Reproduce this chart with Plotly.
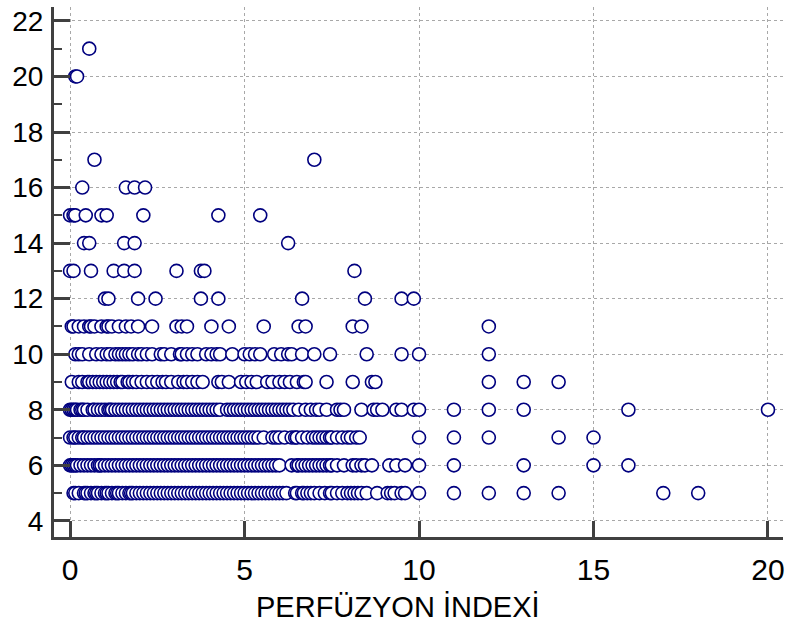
import plotly.graph_objects as go

# PERFÜZYON İNDEXİ values for each integer y level
x_y5 = [0.1, 0.15, 0.25, 0.4, 0.45, 0.5, 0.6, 0.7, 0.75, 0.8, 0.9, 1.0, 1.05, 1.1, 1.2, 1.3, 1.35, 1.4,
        1.5, 1.6, 1.7, 1.75, 1.8, 1.9, 2.0, 2.1, 2.2, 2.3, 2.4, 2.5, 2.6, 2.7, 2.8, 2.9, 3.0, 3.1, 3.2,
        3.3, 3.4, 3.5, 3.6, 3.7, 3.8, 3.9, 4.0, 4.1, 4.2, 4.3, 4.4, 4.5, 4.6, 4.7, 4.8, 4.9, 5.0, 5.1,
        5.2, 5.3, 5.4, 5.5, 5.6, 5.7, 5.8, 5.9, 6.0, 6.1, 6.2, 6.45, 6.5, 6.65, 6.7, 6.8, 6.9, 7.0,
        7.15, 7.3, 7.45, 7.5, 7.65, 7.8, 7.95, 8.05, 8.15, 8.25, 8.35, 8.5, 8.8, 9.1, 9.2, 9.3, 9.5,
        9.6, 10.0, 11.0, 12.0, 13.0, 14.0, 17.0, 18.0]
x_y6 = [0.0, 0.05, 0.1, 0.15, 0.2, 0.3, 0.4, 0.5, 0.6, 0.7, 0.8, 0.85, 0.9, 1.0, 1.1, 1.2, 1.3, 1.4,
        1.5, 1.6, 1.7, 1.8, 1.9, 2.0, 2.1, 2.2, 2.3, 2.4, 2.5, 2.6, 2.7, 2.8, 2.9, 3.0, 3.1, 3.2, 3.3,
        3.4, 3.5, 3.6, 3.7, 3.8, 3.9, 4.0, 4.1, 4.2, 4.3, 4.4, 4.5, 4.6, 4.7, 4.8, 4.9, 5.0, 5.1, 5.2,
        5.3, 5.4, 5.5, 5.6, 5.7, 5.8, 5.9, 6.0, 6.35, 6.5, 6.55, 6.65, 6.75, 6.85, 6.95, 7.05, 7.15,
        7.25, 7.35, 7.45, 7.5, 7.65, 7.85, 8.1, 8.2, 8.35, 8.45, 8.65, 9.15, 9.35, 9.6, 10.0, 11.0,
        13.0, 15.0, 16.0]
x_y7 = [0.0, 0.1, 0.15, 0.25, 0.35, 0.4, 0.5, 0.6, 0.7, 0.8, 0.9, 1.0, 1.1, 1.2, 1.3, 1.4, 1.5, 1.6,
        1.7, 1.8, 1.9, 2.0, 2.1, 2.2, 2.3, 2.4, 2.5, 2.6, 2.7, 2.8, 2.9, 3.0, 3.1, 3.2, 3.3, 3.4, 3.5,
        3.6, 3.7, 3.8, 3.9, 4.0, 4.1, 4.2, 4.3, 4.4, 4.5, 4.6, 4.7, 4.8, 4.9, 5.0, 5.1, 5.2, 5.3, 5.4,
        5.55, 5.8, 5.9, 6.0, 6.15, 6.35, 6.45, 6.5, 6.65, 6.8, 6.95, 7.05, 7.15, 7.25, 7.35, 7.45,
        7.5, 7.65, 7.8, 7.95, 8.05, 8.2, 8.3, 10.0, 11.0, 12.0, 14.0, 15.0]
x_y8 = [0.0, 0.05, 0.1, 0.15, 0.2, 0.3, 0.35, 0.4, 0.5, 0.65, 0.7, 0.8, 0.9, 1.0, 1.1, 1.15, 1.2, 1.3,
        1.4, 1.5, 1.6, 1.7, 1.8, 1.9, 2.0, 2.1, 2.2, 2.3, 2.4, 2.5, 2.6, 2.7, 2.8, 2.9, 3.0, 3.1, 3.2,
        3.3, 3.4, 3.5, 3.6, 3.7, 3.8, 3.9, 4.0, 4.1, 4.2, 4.3, 4.5, 4.6, 4.7, 4.8, 4.9, 5.0, 5.1, 5.2,
        5.3, 5.4, 5.5, 5.6, 5.7, 5.8, 5.9, 6.0, 6.1, 6.2, 6.3, 6.4, 6.55, 6.75, 6.9, 7.05, 7.15, 7.35,
        7.65, 7.75, 7.85, 8.35, 8.7, 8.8, 8.95, 9.35, 9.5, 9.85, 10.0, 11.0, 12.0, 13.0, 16.0, 20.0]
x_y9 = [0.05, 0.25, 0.35, 0.5, 0.55, 0.65, 0.75, 0.85, 0.95, 1.05, 1.15, 1.25, 1.35, 1.45, 1.5, 1.65,
        1.7, 1.8, 1.9, 2.05, 2.2, 2.35, 2.5, 2.65, 2.75, 2.9, 3.1, 3.25, 3.35, 3.5, 3.65, 3.8, 4.25,
        4.35, 4.55, 4.9, 5.05, 5.2, 5.35, 5.65, 5.8, 6.0, 6.15, 6.3, 6.5, 6.7, 6.75, 7.35, 8.1, 8.65,
        8.75, 12.0, 13.0, 14.0]
x_y10 = [0.15, 0.25, 0.35, 0.55, 0.75, 0.9, 1.05, 1.15, 1.3, 1.4, 1.5, 1.6, 1.7, 1.8, 1.95, 2.05, 2.2,
         2.35, 2.6, 2.7, 2.9, 3.15, 3.2, 3.35, 3.5, 3.65, 3.9, 4.05, 4.2, 4.3, 4.65, 5.0, 5.15, 5.3,
         5.45, 5.85, 6.05, 6.25, 6.35, 6.65, 7.0, 7.45, 8.5, 9.5, 10.0, 12.0]
x_y11 = [0.05, 0.1, 0.25, 0.4, 0.55, 0.6, 0.7, 0.9, 1.05, 1.1, 1.2, 1.4, 1.6, 1.75, 1.95, 2.35, 3.05,
         3.2, 3.35, 4.05, 4.55, 5.55, 6.55, 6.75, 8.1, 8.35, 12.0]
x_y12 = [1.0, 1.1, 1.95, 2.45, 3.75, 4.25, 6.65, 8.45, 9.5, 9.85]
x_y13 = [0.0, 0.1, 0.6, 1.25, 1.55, 1.85, 3.05, 3.75, 3.85, 8.15]
x_y14 = [0.4, 0.55, 1.55, 1.85, 6.25]
x_y15 = [0.0, 0.1, 0.15, 0.45, 0.9, 1.05, 2.1, 4.25, 5.45]
x_y16 = [0.35, 1.6, 1.85, 2.15]
x_y17 = [0.7, 7.0]
x_y20 = [0.15, 0.2]
x_y21 = [0.55]

rows = [(5, x_y5), (6, x_y6), (7, x_y7), (8, x_y8), (9, x_y9), (10, x_y10), (11, x_y11),
        (12, x_y12), (13, x_y13), (14, x_y14), (15, x_y15), (16, x_y16), (17, x_y17),
        (20, x_y20), (21, x_y21)]

x_ticks = [0, 5, 10, 15, 20]
y_ticks = [4, 6, 8, 10, 12, 14, 16, 18, 20, 22]
y_minor = [5, 7, 9, 11, 13, 15, 17, 19, 21]
x_title = "PERFÜZYON İNDEXİ"

xs, ys = [], []
for yv, xl in rows:
    for xv in sorted(xl):
        xs.append(xv)
        ys.append(yv)

FONT = "Liberation Sans, Arial, sans-serif"
AX = "#404040"

fig = go.Figure(go.Scatter(
    x=xs, y=ys, mode="markers",
    marker=dict(symbol="circle", size=13, color="white",
                line=dict(color="#00007f", width=1.6)),
    hoverinfo="x+y",
))

fig.update_layout(
    width=788, height=628,
    margin=dict(l=54, r=3, t=7, b=91),
    plot_bgcolor="white", paper_bgcolor="white",
    showlegend=False,
    font=dict(family=FONT, color="black"),
    annotations=[dict(
        text=x_title, xref="paper", yref="paper", x=0.472, y=-0.132,
        xanchor="center", yanchor="middle", showarrow=False,
        font=dict(size=29, family=FONT, color="black"),
    )],
)

fig.update_xaxes(
    range=[-0.46, 20.43], tickvals=x_ticks,
    showline=True, linecolor=AX, linewidth=3,
    ticks="inside", ticklen=16, tickwidth=3, tickcolor=AX,
    showgrid=True, gridcolor="#a8a8a8", griddash="dot", gridwidth=1,
    zeroline=False,
    tickfont=dict(size=30, family=FONT, color="black"),
    ticklabelstandoff=4,
)

fig.update_yaxes(
    range=[3.42, 22.5], tickvals=y_ticks,
    showline=True, linecolor=AX, linewidth=3,
    ticks="inside", ticklen=16, tickwidth=3, tickcolor=AX,
    showgrid=True, gridcolor="#a8a8a8", griddash="dot", gridwidth=1,
    zeroline=False,
    tickfont=dict(size=28, family=FONT, color="black"),
    ticklabelstandoff=2,
    minor=dict(tickvals=y_minor, ticks="inside", ticklen=8, tickwidth=2,
               tickcolor=AX, showgrid=False),
)

fig.write_html("out.html")
